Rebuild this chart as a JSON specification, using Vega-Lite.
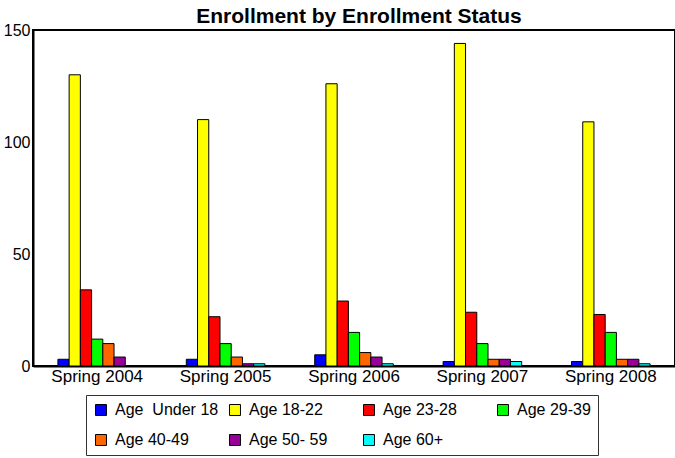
{
  "$schema": "https://vega.github.io/schema/vega-lite/v6.json",
  "width": 642,
  "height": 336,
  "autosize": {"type": "none"},
  "padding": {"left": 33, "top": 30, "right": 0, "bottom": 92},
  "background": "white",
  "title": {
    "text": "Enrollment by Enrollment Status",
    "font": "Liberation Sans",
    "fontSize": 21,
    "fontWeight": "bold",
    "color": "black",
    "anchor": "middle",
    "offset": 2,
    "dx": 5,
    "dy": 7
  },
  "config": {
    "font": "Liberation Sans",
    "view": {"stroke": "black", "strokeWidth": 2}
  },
  "data": {
    "values": [
      {"term": "Spring 2004", "age": "Age \u00a0Under 18", "n": 3},
      {"term": "Spring 2004", "age": "Age 18-22", "n": 130},
      {"term": "Spring 2004", "age": "Age 23-28", "n": 34},
      {"term": "Spring 2004", "age": "Age 29-39", "n": 12},
      {"term": "Spring 2004", "age": "Age 40-49", "n": 10},
      {"term": "Spring 2004", "age": "Age 50- 59", "n": 4},
      {"term": "Spring 2004", "age": "Age 60+", "n": 0},
      {"term": "Spring 2005", "age": "Age \u00a0Under 18", "n": 3},
      {"term": "Spring 2005", "age": "Age 18-22", "n": 110},
      {"term": "Spring 2005", "age": "Age 23-28", "n": 22},
      {"term": "Spring 2005", "age": "Age 29-39", "n": 10},
      {"term": "Spring 2005", "age": "Age 40-49", "n": 4},
      {"term": "Spring 2005", "age": "Age 50- 59", "n": 1},
      {"term": "Spring 2005", "age": "Age 60+", "n": 1},
      {"term": "Spring 2006", "age": "Age \u00a0Under 18", "n": 5},
      {"term": "Spring 2006", "age": "Age 18-22", "n": 126},
      {"term": "Spring 2006", "age": "Age 23-28", "n": 29},
      {"term": "Spring 2006", "age": "Age 29-39", "n": 15},
      {"term": "Spring 2006", "age": "Age 40-49", "n": 6},
      {"term": "Spring 2006", "age": "Age 50- 59", "n": 4},
      {"term": "Spring 2006", "age": "Age 60+", "n": 1},
      {"term": "Spring 2007", "age": "Age \u00a0Under 18", "n": 2},
      {"term": "Spring 2007", "age": "Age 18-22", "n": 144},
      {"term": "Spring 2007", "age": "Age 23-28", "n": 24},
      {"term": "Spring 2007", "age": "Age 29-39", "n": 10},
      {"term": "Spring 2007", "age": "Age 40-49", "n": 3},
      {"term": "Spring 2007", "age": "Age 50- 59", "n": 3},
      {"term": "Spring 2007", "age": "Age 60+", "n": 2},
      {"term": "Spring 2008", "age": "Age \u00a0Under 18", "n": 2},
      {"term": "Spring 2008", "age": "Age 18-22", "n": 109},
      {"term": "Spring 2008", "age": "Age 23-28", "n": 23},
      {"term": "Spring 2008", "age": "Age 29-39", "n": 15},
      {"term": "Spring 2008", "age": "Age 40-49", "n": 3},
      {"term": "Spring 2008", "age": "Age 50- 59", "n": 3},
      {"term": "Spring 2008", "age": "Age 60+", "n": 1}
    ]
  },
  "mark": {"type": "bar", "stroke": "black", "strokeWidth": 1},
  "encoding": {
    "x": {
      "field": "term",
      "type": "nominal",
      "title": null,
      "scale": {"paddingInner": 0.388, "paddingOuter": 0.194},
      "axis": {
        "labelAngle": 0,
        "ticks": false,
        "labelFontSize": 17,
        "labelColor": "black",
        "labelPadding": 2,
        "domainColor": "black",
        "domainWidth": 2
      }
    },
    "xOffset": {
      "field": "age",
      "type": "nominal",
      "sort": ["Age \u00a0Under 18", "Age 18-22", "Age 23-28", "Age 29-39", "Age 40-49", "Age 50- 59", "Age 60+"],
      "scale": {"paddingInner": 0, "paddingOuter": 0}
    },
    "y": {
      "field": "n",
      "type": "quantitative",
      "title": null,
      "scale": {"domain": [0, 150], "nice": false},
      "axis": {
        "values": [0, 50, 100, 150],
        "grid": false,
        "ticks": false,
        "labelFontSize": 16,
        "labelColor": "black",
        "labelPadding": 3,
        "domainColor": "black",
        "domainWidth": 2
      }
    },
    "color": {
      "field": "age",
      "type": "nominal",
      "title": null,
      "sort": ["Age \u00a0Under 18", "Age 18-22", "Age 23-28", "Age 29-39", "Age 40-49", "Age 50- 59", "Age 60+"],
      "scale": {
        "domain": ["Age \u00a0Under 18", "Age 18-22", "Age 23-28", "Age 29-39", "Age 40-49", "Age 50- 59", "Age 60+"],
        "range": ["#0000FF", "#FFFF00", "#FF0000", "#00FF00", "#FF6600", "#990099", "#00FFFF"]
      },
      "legend": {
        "orient": "none",
        "legendX": 53,
        "legendY": 365,
        "direction": "horizontal",
        "columns": 4,
        "gridAlign": "all",
        "columnPadding": 8,
        "rowPadding": 14,
        "padding": 7,
        "strokeColor": "#333333",
        "fillColor": "white",
        "symbolType": "square",
        "symbolSize": 120,
        "symbolStrokeColor": "black",
        "symbolStrokeWidth": 1,
        "symbolOpacity": 1,
        "labelFontSize": 16,
        "labelColor": "black",
        "labelOffset": 6,
        "labelLimit": 200
      }
    }
  }
}
